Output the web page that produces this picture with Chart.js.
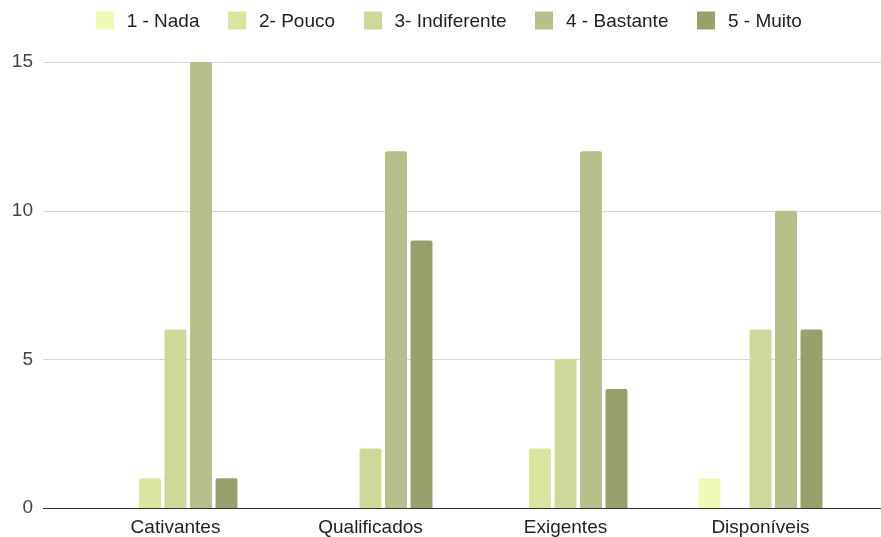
<!DOCTYPE html>
<html>
<head>
<meta charset="utf-8">
<script src="https://cdn.jsdelivr.net/npm/chart.js@4/dist/chart.umd.min.js"></script>
<style>
  html, body { margin: 0; padding: 0; background: #ffffff; }
  #wrap { width: 881px; height: 537px; position: relative; }
</style>
</head>
<body>
<div id="wrap"><canvas id="chart"></canvas></div>
<script>
// Categories and answer counts per rating
const categories = ['Cativantes', 'Qualificados', 'Exigentes', 'Disponíveis'];
const seriesNames = ['1 - Nada', '2- Pouco', '3- Indiferente', '4 - Bastante', '5 - Muito'];
const nada        = [0, 0, 0, 1];
const pouco       = [1, 0, 2, 0];
const indiferente = [6, 2, 5, 6];
const bastante    = [15, 12, 12, 10];
const muito       = [1, 9, 4, 6];
const yTicks      = [0, 5, 10, 15];

const seriesValues = [nada, pouco, indiferente, bastante, muito];
const seriesColors = ['#edfbb6', '#d9e69f', '#cdd899', '#b6c08a', '#98a06c'];

const FONT = "'Liberation Sans', Arial, sans-serif";

// Square legend swatches, placed inside a slightly taller image so they
// line up with the middle of the label text
function makeSwatch(color) {
  const c = document.createElement('canvas');
  c.width = 18;
  c.height = 22;
  const g = c.getContext('2d');
  g.fillStyle = color;
  g.fillRect(0, 1, 18, 18);
  return c;
}
const swatches = seriesColors.map(makeSwatch);

// Horizontal grid lines and baseline run wider than the bar area
const wideGrid = {
  id: 'wideGrid',
  beforeDatasetsDraw(chart, args, opts) {
    const { ctx } = chart;
    const y = chart.scales.y;
    ctx.save();
    ctx.lineWidth = 1;
    ctx.strokeStyle = opts.gridColor;
    yTicks.forEach(v => {
      if (v === 0) return;
      const py = Math.round(y.getPixelForValue(v)) + 0.5;
      ctx.beginPath();
      ctx.moveTo(opts.left, py);
      ctx.lineTo(chart.width, py);
      ctx.stroke();
    });
    ctx.restore();
  },
  afterDatasetsDraw(chart, args, opts) {
    const { ctx } = chart;
    const py = Math.round(chart.scales.y.getPixelForValue(0)) + 0.5;
    ctx.save();
    ctx.lineWidth = 1;
    ctx.strokeStyle = opts.baseColor;
    ctx.beginPath();
    ctx.moveTo(opts.left, py);
    ctx.lineTo(chart.width, py);
    ctx.stroke();
    ctx.restore();
  }
};

// Fixed legend block height, and a small nudge of where its row is drawn
const legendBox = {
  id: 'legendBox',
  beforeInit(chart, args, opts) {
    const legend = chart.legend;
    if (!legend) return;
    const fit = legend.fit;
    legend.fit = function () {
      fit.call(this);
      this.height = opts.height;
    };
  },
  afterLayout(chart, args, opts) {
    const legend = chart.legend;
    if (!legend) return;
    legend.left += opts.dx;
    legend.right += opts.dx;
    legend.top += opts.dy;
    legend.bottom += opts.dy;
  }
};

new Chart(document.getElementById('chart'), {
  type: 'bar',
  data: {
    labels: categories,
    datasets: seriesNames.map((name, i) => ({
      label: name,
      data: seriesValues[i],
      backgroundColor: seriesColors[i],
      borderWidth: 0,
      borderRadius: 2,
      borderSkipped: 'start',
      categoryPercentage: 0.654,
      barPercentage: 0.86
    }))
  },
  plugins: [wideGrid, legendBox],
  options: {
    responsive: true,
    maintainAspectRatio: false,
    animation: false,
    devicePixelRatio: 1,
    layout: { padding: { left: 0, right: 23, top: 0, bottom: 0 } },
    plugins: {
      legend: {
        position: 'top',
        labels: {
          usePointStyle: true,
          pointStyleWidth: 25,
          boxHeight: 18,
          padding: 25,
          color: '#222222',
          font: { family: FONT, size: 19 },
          generateLabels(chart) {
            const items = Chart.defaults.plugins.legend.labels.generateLabels(chart);
            items.forEach((item, i) => { item.pointStyle = swatches[i]; });
            return items;
          }
        }
      },
      tooltip: { enabled: false },
      wideGrid: { left: 43, gridColor: '#d6d6d6', baseColor: '#333333' },
      legendBox: { height: 62, dx: 18, dy: -13 }
    },
    scales: {
      x: {
        grid: { display: false, drawTicks: false },
        border: { display: false },
        ticks: { color: '#222222', padding: 8, font: { family: FONT, size: 19 } },
        afterFit(s) { s.height = 29; }
      },
      y: {
        min: 0,
        max: 15,
        grid: { display: false, drawTicks: false },
        border: { display: false },
        afterBuildTicks(s) { s.ticks = yTicks.map(v => ({ value: v })); },
        ticks: { color: '#444444', padding: 45, font: { family: FONT, size: 19 } },
        afterFit(s) {
          s.width = 78;
          s.paddingTop = 0;
          s.paddingBottom = 0;
        }
      }
    }
  }
});
</script>
</body>
</html>
